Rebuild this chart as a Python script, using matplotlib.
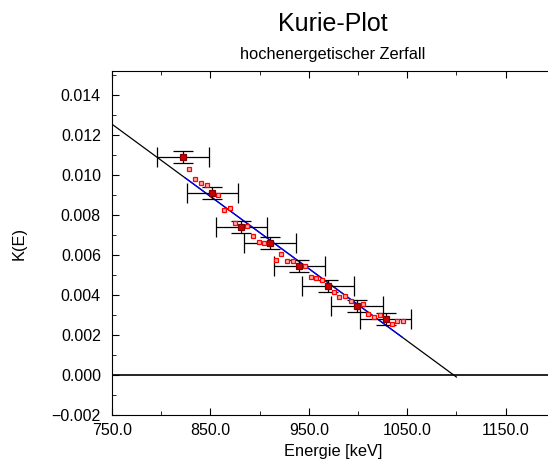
import matplotlib
matplotlib.use("Agg")
import matplotlib.pyplot as plt
from matplotlib.ticker import MultipleLocator, FuncFormatter

plt.rcParams["font.family"] = ["Liberation Sans", "DejaVu Sans"]

# small points (every measured channel)
e_small = [828.3, 834.3, 840.1, 846.2, 857.7, 863.8, 869.6, 875.3, 887.2, 893.0,
           899.1, 904.8, 916.4, 922.1, 928.2, 933.9, 946.1, 951.9, 957.6, 963.4,
           975.3, 981.0, 987.1, 992.9, 1004.8, 1010.5, 1016.3, 1022.4, 1034.2,
           1039.9, 1046.0]
k_small = [0.01032, 0.00982, 0.00962, 0.00950, 0.00902, 0.00825, 0.00835, 0.00762,
           0.00744, 0.00694, 0.00664, 0.00659, 0.00574, 0.00604, 0.00569, 0.00569,
           0.00547, 0.00492, 0.00487, 0.00474, 0.00415, 0.00392, 0.00394, 0.00372,
           0.00354, 0.00305, 0.00289, 0.00299, 0.00254, 0.00269, 0.00269]

# points with error bars
e_big = [822.2, 851.9, 881.4, 910.6, 940.3, 969.5, 999.0, 1028.2]
k_big = [0.01092, 0.00909, 0.00740, 0.00659, 0.00547, 0.00445, 0.00345, 0.00279]
e_err = 26
k_err = 0.0003

# fit line (extrapolated) and fit range
fit_e = [750, 1100]
fit_k = [0.01254, -0.0001]
range_e = [824, 1045]
range_k = [0.00987, 0.00189]

fig = plt.figure(figsize=(5.48, 4.62), dpi=100)
ax = fig.add_axes([0.2044, 0.1017, 0.808, 0.7446])

ax.axhline(0, color="black", lw=1.2)
ax.plot(fit_e, fit_k, color="black", lw=0.9)
ax.plot(range_e, range_k, color="blue", lw=0.9)
ax.errorbar(e_big, k_big, xerr=e_err, yerr=k_err, fmt="none", ecolor="black",
            elinewidth=0.9, capsize=7, capthick=0.9)
ax.plot(e_small, k_small, "s", ms=3.5, mfc="#ffb0b0", mec="red", mew=0.9, ls="none")
ax.plot(e_big, k_big, "s", ms=5, mfc="#cc0000", mec="#800000", mew=0.9, ls="none")

ax.set_xlim(750, 1200)
ax.set_ylim(-0.002, 0.0152)
ax.xaxis.set_major_locator(MultipleLocator(100, offset=50))
ax.xaxis.set_minor_locator(MultipleLocator(50))
ax.yaxis.set_major_locator(MultipleLocator(0.002))
ax.yaxis.set_minor_locator(MultipleLocator(0.001))
ax.xaxis.set_major_formatter(FuncFormatter(lambda v, p: f"{v:.1f}"))
ax.yaxis.set_major_formatter(FuncFormatter(lambda v, p: f"{v:.3f}".replace("-", "\u2212")))
ax.tick_params(which="both", direction="in", top=True, right=False, labelsize=11.5)
ax.tick_params(which="major", length=5)
ax.tick_params(which="minor", length=3)
ax.tick_params(axis="x", pad=6)
ax.tick_params(axis="y", pad=8)
ax.spines["right"].set_visible(False)

ax.set_xlabel("Energie [keV]", fontsize=11.8, labelpad=4)
ax.set_ylabel("K(E)", fontsize=11.8, labelpad=18)
fig.text(0.608, 0.947, "Kurie-Plot", ha="center", va="center", fontsize=18)
fig.text(0.608, 0.881, "hochenergetischer Zerfall", ha="center", va="center", fontsize=11.8)

fig.savefig("out.png", dpi=100)
